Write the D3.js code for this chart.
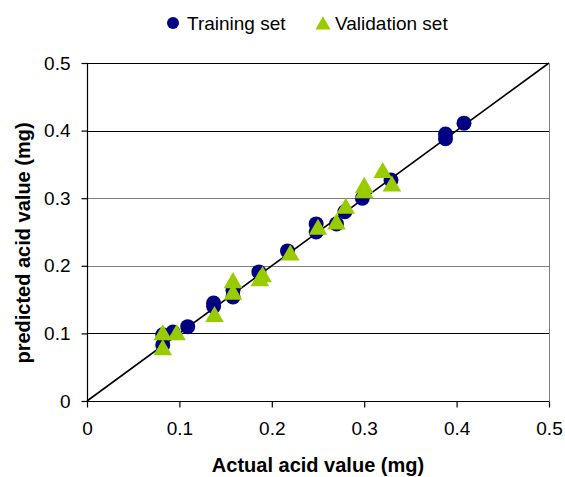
<!DOCTYPE html>
<html><head><meta charset="utf-8">
<script src="https://cdn.jsdelivr.net/npm/d3@7"></script>
<style>body{margin:0;background:#fff}svg{display:block;font-family:"Liberation Sans",Arial,sans-serif}</style>
</head><body><svg id="c" width="565" height="477"></svg>
<script>
const ticks = [0, 0.1, 0.2, 0.3, 0.4, 0.5];
const tickLabels = ["0", "0.1", "0.2", "0.3", "0.4", "0.5"];
const trainX = [0.082,0.082,0.093,0.109,0.137,0.137,0.158,0.158,0.186,0.217,0.248,0.248,0.270,0.279,0.298,0.329,0.388,0.388,0.408];
const trainY = [0.083,0.098,0.102,0.110,0.140,0.145,0.154,0.164,0.191,0.222,0.250,0.262,0.262,0.280,0.300,0.327,0.388,0.395,0.411];
const validX = [0.082,0.082,0.097,0.138,0.158,0.158,0.187,0.190,0.220,0.250,0.270,0.280,0.300,0.300,0.320,0.330];
const validY = [0.100,0.078,0.100,0.127,0.160,0.177,0.180,0.186,0.218,0.256,0.264,0.287,0.310,0.318,0.340,0.320];
const legendLabels = ["Training set", "Validation set"];
const colors = ["#000080", "#99CC00"];

const svg = d3.select("#c");
const x = d3.scaleLinear().domain([0, 0.5]).range([87, 549]);
const y = d3.scaleLinear().domain([0, 0.5]).range([401, 63]);
const crisp = v => Math.round(v) + 0.5;

// gridlines
svg.append("g").selectAll("line").data(ticks.slice(1)).join("line")
  .attr("x1", x(0)).attr("x2", x(0.5))
  .attr("y1", d => crisp(y(d))).attr("y2", d => crisp(y(d)))
  .attr("stroke", (d,i) => (i===1||i===2) ? "#808080" : "#000").attr("stroke-width", 1);
// right border
svg.append("line").attr("x1", crisp(x(0.5))).attr("x2", crisp(x(0.5)))
  .attr("y1", crisp(y(0.5))).attr("y2", crisp(y(0))).attr("stroke", "#808080");

// axes
const xAxis = d3.axisBottom(x).tickValues(ticks).tickFormat((d,i) => tickLabels[i]).tickSize(6).tickPadding(14);
const yAxis = d3.axisLeft(y).tickValues(ticks).tickFormat((d,i) => tickLabels[i]).tickSize(6).tickPadding(11);
const gx = svg.append("g").attr("transform", `translate(0,${crisp(y(0))})`).call(xAxis);
const gy = svg.append("g").attr("transform", `translate(${crisp(x(0))},0)`).call(yAxis);
[gx, gy].forEach(g => {
  g.selectAll("path,line").attr("stroke", "#000").attr("stroke-width", 1.2);
  g.select(".domain").attr("d", g === gx ? `M0,0H${x(0.5)}` : `M0,${y(0.5)}V${y(0)}`).attr("transform", g===gx ? "translate(0,0)" : null);
  g.selectAll("text").attr("font-size", 19).attr("fill", "#000").attr("font-family", '"Liberation Sans",Arial,sans-serif');
});
gx.select(".domain").attr("d", `M${x(0)},0H${x(0.5)}`);

// diagonal
svg.append("line").attr("x1", x(0)).attr("y1", y(0)).attr("x2", x(0.5)).attr("y2", y(0.5))
  .attr("stroke", "#000").attr("stroke-width", 1.6);

const tri = d3.symbol().type(d3.symbolTriangle).size(150);
// training circles
svg.append("g").selectAll("circle").data(trainX).join("circle")
  .attr("cx", d => x(d)).attr("cy", (d,i) => y(trainY[i])).attr("r", 7.5).attr("fill", colors[0]);
// validation triangles
svg.append("g").selectAll("path").data(validX).join("path")
  .attr("d", tri).attr("transform", (d,i) => `translate(${x(d)},${y(validY[i]) + 1.5})`).attr("fill", colors[1]);

// axis titles
svg.append("text").attr("x", 318).attr("y", 472).attr("text-anchor", "middle")
  .attr("font-size", 20).attr("font-weight", "bold").text("Actual acid value (mg)");
svg.append("text").attr("transform", "translate(30,243) rotate(-90)").attr("text-anchor", "middle")
  .attr("font-size", 20).attr("font-weight", "bold").text("predicted acid value (mg)");

// legend
const lg = svg.append("g");
lg.append("circle").attr("cx", 173).attr("cy", 23).attr("r", 6).attr("fill", colors[0]);
lg.append("text").attr("x", 187).attr("y", 30).attr("font-size", 19).text(legendLabels[0]);
lg.append("path").attr("d", d3.symbol().type(d3.symbolTriangle).size(100)).attr("transform", "translate(323,25)").attr("fill", colors[1]);
lg.append("text").attr("x", 335).attr("y", 30).attr("font-size", 19).text(legendLabels[1]);
</script></body></html>
